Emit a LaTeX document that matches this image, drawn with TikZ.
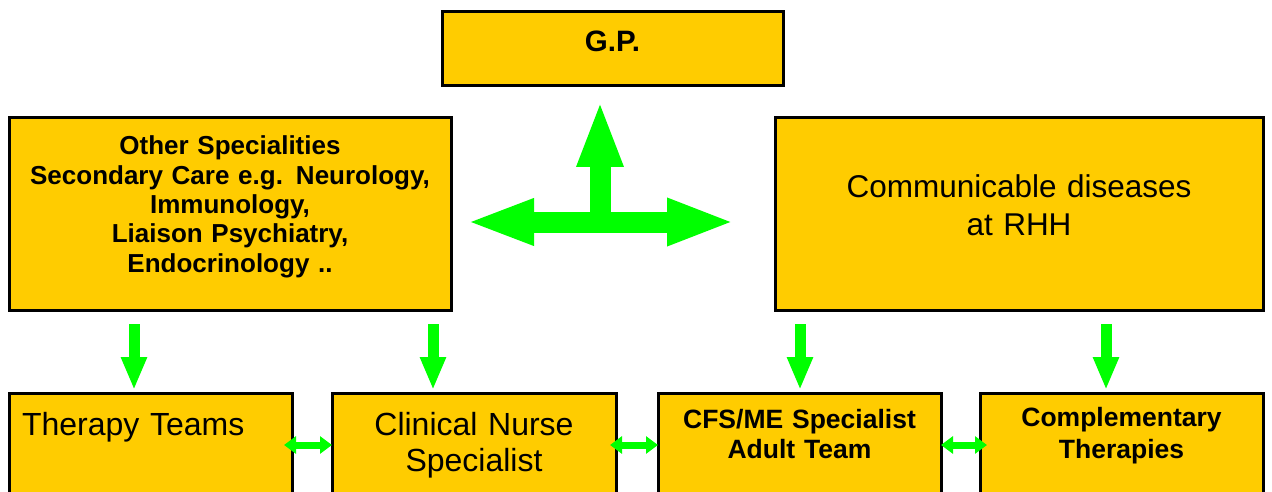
\documentclass[tikz,border=0pt]{standalone}
\usepackage{fontspec}
\setmainfont{Liberation Sans}
\usetikzlibrary{arrows.meta}
\definecolor{boxfill}{HTML}{FFCC00}
\definecolor{arrowgreen}{HTML}{00FF00}
\begin{document}
\begin{tikzpicture}[x=1pt,y=-1pt,
  box/.style={draw=black, line width=3pt, fill=boxfill, inner sep=0pt,
    outer sep=0pt, anchor=north west, align=center},
  boldtext/.style={font=\fontsize{#1}{29}\selectfont\bfseries},
  bigarrow/.style={draw=arrowgreen, line width=21pt,
    arrows={-Triangle[length=67pt,width=42pt]}},
  bigdouble/.style={draw=arrowgreen, line width=21pt,
    arrows={Triangle[length=68pt,width=42pt]-Triangle[length=68pt,width=43pt]}},
  downarrow/.style={draw=arrowgreen, line width=11pt,
    arrows={-Triangle[length=33pt,width=24pt]}},
  linkarrow/.style={draw=arrowgreen, line width=7pt,
    arrows={Triangle[length=12pt,width=17pt]-Triangle[length=12pt,width=17pt]}}
]
\clip (0,0) rectangle (1272,492);
\fill[white] (0,0) rectangle (1272,492);

% top row
\node[box, text width=341pt, text height=40pt, text depth=34pt,
  font=\fontsize{29.5}{32}\selectfont\bfseries] (gp) at (442,12) {G.P.};

% middle row
\node[box, text width=442pt, text height=37pt, text depth=155pt,
  font=\fontsize{26}{29.3}\selectfont\bfseries] (other) at (9,118)
  {Other Specialities\\Secondary Care e.g. Neurology,\\Immunology,\\Liaison Psychiatry,\\Endocrinology ..};
\node[box, text width=488pt, text height=79pt, text depth=113pt,
  font=\fontsize{31.5}{38}\selectfont] (comm) at (775,118)
  {Communicable diseases\\at RHH};

% bottom row
\node[box, align=left, inner xsep=13pt, text width=257pt, text height=42pt,
  text depth=107pt, font=\fontsize{32}{36}\selectfont] (therapy) at (9,393)
  {Therapy Teams};
\node[box, text width=284pt, text height=42pt, text depth=107pt,
  font=\fontsize{32}{36}\selectfont] (nurse) at (332,393)
  {Clinical Nurse\\Specialist};
\node[box, text width=283pt, text height=35pt, text depth=114pt,
  font=\fontsize{26.5}{30.5}\selectfont\bfseries] (cfs) at (658,393)
  {CFS/ME Specialist\\Adult Team};
\node[box, text width=283pt, text height=33pt, text depth=116pt,
  font=\fontsize{26.5}{32}\selectfont\bfseries] (comp) at (980,393)
  {Complementary\\Therapies};

% central junction between G.P. and the two upper boxes
\coordinate (hub) at (600,222);
\draw[bigarrow, shorten >=14pt] (hub) -- (hub |- gp.south);
\draw[bigdouble, shorten <=15pt, shorten >=40pt] (other.east |- hub) -- (comm.west |- hub);

% referral arrows down to the teams
\coordinate (a1) at (134,0);
\coordinate (a2) at (433,0);
\coordinate (a3) at (800,0);
\coordinate (a4) at (1106,0);
\draw[downarrow, shorten <=14pt, shorten >=3pt] (other.south -| a1) -- (therapy.north -| a1);
\draw[downarrow, shorten <=14pt, shorten >=3pt] (other.south -| a2) -- (nurse.north -| a2);
\draw[downarrow, shorten <=14pt, shorten >=3pt] (comm.south -| a3) -- (cfs.north -| a3);
\draw[downarrow, shorten <=14pt, shorten >=3pt] (comm.south -| a4) -- (comp.north -| a4);

% links between neighbouring teams
\coordinate (row) at (0,445);
\draw[linkarrow, shorten <=-8pt] (therapy.east |- row) -- (nurse.west |- row);
\draw[linkarrow, shorten <=-6pt] (nurse.east |- row) -- (cfs.west |- row);
\draw[linkarrow, shorten >=-7pt] (cfs.east |- row) -- (comp.west |- row);
\end{tikzpicture}
\end{document}
